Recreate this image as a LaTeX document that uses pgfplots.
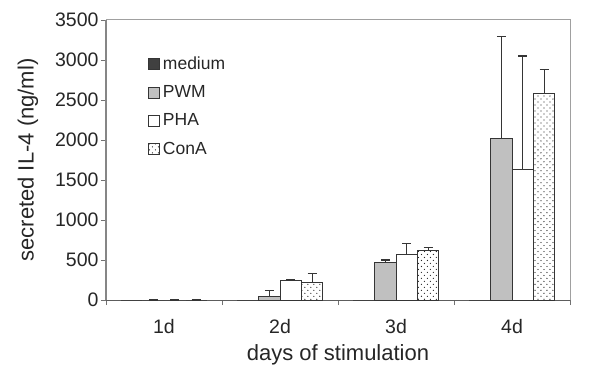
\documentclass[border=0pt]{standalone}
\usepackage{pgfplots}
\pgfplotsset{compat=1.18}
\usepackage{fontspec}
\setmainfont{Liberation Sans}
\usetikzlibrary{patterns}
\pgfdeclarepatternformonly{mydots}{\pgfqpoint{-1pt}{-1pt}}{\pgfqpoint{5pt}{5pt}}{\pgfqpoint{6pt}{6pt}}{%
  \pgfpathcircle{\pgfqpoint{0pt}{0pt}}{0.65pt}%
  \pgfpathcircle{\pgfqpoint{3pt}{3pt}}{0.65pt}%
  \pgfusepath{fill}}
\definecolor{darkline}{HTML}{353535}
\definecolor{pwmfill}{HTML}{C0C0C0}
\definecolor{medfill}{HTML}{404040}
\definecolor{frame}{HTML}{A0A0A0}
\begin{document}
\begin{tikzpicture}
\begin{axis}[
  scale only axis,
  width=464bp, height=280bp,
  xmin=-0.5, xmax=3.5,
  ymin=0, ymax=3500,
  ytick={0,500,...,3500},
  xtick={0,1,2,3},
  xticklabels={1d,2d,3d,4d},
  minor xtick={-0.5,0.5,1.5,2.5,3.5},
  major x tick style={draw=none},
  minor tick length=5bp,
  major tick length=5bp,
  tick align=outside,
  tick style={draw=darkline!70, line width=0.8bp},
  separate axis lines,
  axis x line*=bottom,
  axis y line*=left,
  x axis line style={draw=darkline!80, line width=1bp, -},
  y axis line style={draw=darkline!60, line width=1.2bp, -},
  /pgf/number format/assume math mode=true,
  /pgf/number format/1000 sep={},
  ticklabel style={font=\fontsize{19.5bp}{22bp}\selectfont, text=black!85},
  yticklabel style={xshift=1bp},
  xticklabel style={yshift=-11bp},
  xlabel={days of stimulation},
  ylabel={secreted IL-4 (ng/ml)},
  every axis x label/.style={at={(axis description cs:0.5,-0.196)}, anchor=center,
    font=\fontsize{22bp}{25bp}\selectfont, text=black!85},
  every axis y label/.style={at={(axis description cs:-0.168,0.5)}, rotate=90, anchor=center,
    font=\fontsize{22bp}{25bp}\selectfont, text=black!85},
  ybar,
  bar width=0.185,
  clip=false,
  legend cell align=left,
  legend style={at={(axis description cs:0.09,0.875)}, anchor=north west, draw=none, fill=none,
    font=\fontsize{17.5bp}{20bp}\selectfont, row sep=10.5bp, inner sep=0pt, text=black!85,
    nodes={inner xsep=3bp}},
  legend image code/.code={\draw[#1, line width=1bp] (0bp,-5.5bp) rectangle (11bp,5.5bp);},
  error bars/y dir=plus,
  error bars/y explicit,
  error bars/error bar style={draw=darkline, line width=1.2bp},
  error bars/error mark options={draw=darkline, line width=1.2bp, mark size=4.5bp, rotate=90},
]
\addplot[draw=darkline, line width=1bp, fill=medfill, bar shift=-0.2775, error bars/y dir=none]
  coordinates {(0,0) (1,0) (2,0) (3,0)};
\addlegendentry{medium}
\addplot[draw=darkline, line width=1bp, fill=pwmfill, bar shift=-0.0925]
  coordinates {(0,0) +- (0,0) (1,50) +- (0,71) (2,468) +- (0,32) (3,2018) +- (0,1274)};
\addlegendentry{PWM}
\addplot[draw=darkline, line width=1bp, fill=white, bar shift=0.0925]
  coordinates {(0,0) +- (0,0) (1,242) +- (0,16) (2,564) +- (0,142) (3,1633) +- (0,1416)};
\addlegendentry{PHA}
\addplot[draw=darkline, line width=1bp, pattern=mydots, pattern color=black!85, bar shift=0.2775]
  coordinates {(0,0) +- (0,0) (1,225) +- (0,104) (2,622) +- (0,30) (3,2586) +- (0,292)};
\addlegendentry{ConA}
\draw[frame, line width=1bp] (rel axis cs:0,1) -- (rel axis cs:1,1) -- (rel axis cs:1,0);
\end{axis}
\path (current axis.south west) ++(-106bp,-83bp) coordinate (bl);
\path (current axis.north east) ++(30bp,20bp) coordinate (tr);
\useasboundingbox (bl) rectangle (tr);
\end{tikzpicture}
\end{document}
